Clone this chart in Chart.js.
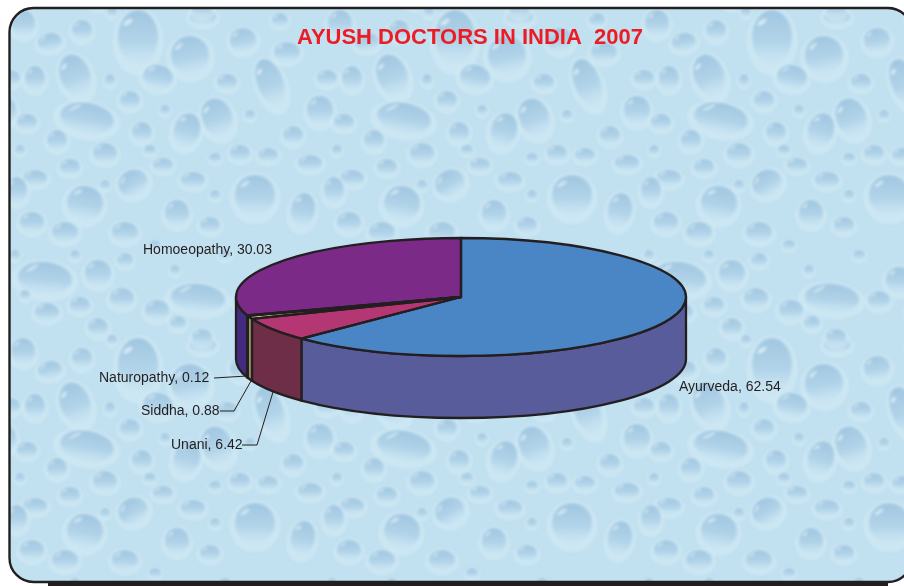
<!DOCTYPE html>
<html>
<head>
<meta charset="utf-8">
<title>AYUSH doctors in India 2007</title>
<script src="https://cdn.jsdelivr.net/npm/chart.js@4"></script>
<style>
  html, body { margin: 0; padding: 0; background: #fff; overflow: hidden; }
  #wrap { position: relative; width: 904px; height: 586px; }
</style>
</head>
<body>
<div id="wrap"><canvas id="myChart" width="904" height="586"></canvas></div>
<script>
var categories = ['Ayurveda', 'Unani', 'Siddha', 'Naturopathy', 'Homoeopathy'];
var shares = [62.54, 6.42, 0.88, 0.12, 30.03];
var titleText = 'AYUSH DOCTORS IN INDIA  2007';

var topColors = ['#4A86C5', '#B43672', '#E8E4A0', '#231F20', '#7B2A88'];
var wallColors = ['#595C9A', '#6F2E48', '#9A9468', '#231F20', '#432C7F'];

// where each label goes, and its leader line if it has one
var labelSpots = [[679, 387], [171, 445], [141, 411], [99, 378], [143, 250]];
var leaders = [
  null,
  [[242, 445], [257, 445], [273, 392]],
  [[220, 411], [234, 411], [251, 381]],
  [[214, 378], [247, 376]],
  null
];

// the flattened pie on the page
var pieX = 461, pieY = 297, pieR = 225, pieRy = 59, pieDepth = 62;
var ink = '#231F20';

// water drops of the backdrop, one repeating tile: x, y, rx, ry, tilt in degrees
var tileW = 317, tileH = 328;
var bgDrops = [
  [138, 37, 20, 27, 0], [190, 55, 19, 19, -10], [75, 75, 15, 21, -20], [270, 82, 13, 24, -20],
  [243, 40, 13, 12, -10], [158, 77, 15, 12, 10], [87, 118, 27, 15, 10], [217, 117, 15, 19, -20],
  [187, 130, 13, 17, 15], [3, 110, 13, 14, 0], [130, 100, 10, 9, 0], [227, 82, 10, 8, 0],
  [85, 203, 18, 17, 10], [255, 195, 20, 20, 0], [133, 183, 15, 13, -30], [303, 210, 12, 17, 10],
  [177, 213, 12, 13, 0], [125, 232, 13, 10, 0], [65, 232, 13, 10, 0], [32, 222, 12, 10, 0],
  [35, 78, 10, 12, 0], [50, 42, 12, 9, -10], [82, 30, 10, 10, 0], [23, 23, 12, 13, 0],
  [203, 17, 13, 8, 0], [287, 52, 13, 10, 0], [280, 20, 8, 7, 0], [27, 122, 10, 8, 0],
  [57, 140, 10, 10, 0], [105, 153, 12, 10, 0], [70, 167, 10, 8, 0], [35, 178, 12, 8, 0],
  [142, 132, 10, 10, 0], [163, 165, 10, 7, 0], [193, 180, 12, 8, 0], [240, 153, 10, 8, 0],
  [268, 155, 10, 7, 0], [293, 135, 10, 9, 0], [310, 163, 12, 8, 0], [10, 78, 10, 8, 0],
  [210, 225, 10, 8, 0], [17, 190, 10, 13, 0], [45, 278, 27, 16, 5], [98, 273, 13, 13, 0],
  [125, 260, 8, 7, 0], [198, 298, 27, 14, 5], [80, 305, 10, 8, 0], [122, 298, 12, 10, 0],
  [47, 312, 12, 9, 0], [157, 310, 12, 10, 0], [98, 327, 10, 9, 0], [202, 9, 10, 8, 0],
  [178, 323, 8, 7, 0], [265, 280, 13, 13, 0], [300, 270, 10, 9, 0], [245, 300, 11, 9, 0],
  [285, 310, 12, 10, 0], [112, 12, 5, 5, 0], [165, 110, 5, 5, 0], [110, 80, 5, 6, 0],
  [250, 115, 5, 5, 0], [20, 150, 5, 5, 0], [150, 150, 6, 5, 0], [215, 158, 6, 5, 0],
  [105, 185, 5, 5, 0], [215, 195, 5, 5, 0], [155, 245, 6, 5, 0], [225, 255, 6, 5, 0],
  [15, 255, 5, 5, 0], [75, 255, 5, 5, 0], [175, 270, 5, 5, 0], [25, 295, 5, 5, 0]
];

function dropAt(g, d, dx, dy) {
  var x = d[0] + dx, y = d[1] + dy, rx = d[2], ry = d[3], tilt = d[4] * Math.PI / 180;
  g.save();
  g.translate(x, y);
  g.rotate(tilt);
  // pale rim round the drop
  g.fillStyle = 'rgba(214,236,246,0.55)';
  g.beginPath();
  g.ellipse(0, ry * 0.16, rx * 1.2 + 1.5, ry * 1.22 + 1.5, 0, 0, Math.PI * 2);
  g.fill();
  // dark at the top, melting into the paper at the bottom
  var fill = g.createLinearGradient(0, -ry, 0, ry);
  fill.addColorStop(0, 'rgba(160,198,224,1)');
  fill.addColorStop(0.6, 'rgba(178,212,233,1)');
  fill.addColorStop(1, 'rgba(200,228,242,0.6)');
  g.fillStyle = fill;
  g.beginPath();
  g.ellipse(0, 0, rx, ry, 0, 0, Math.PI * 2);
  g.fill();
  // glint top left
  if (rx > 7) {
    g.fillStyle = 'rgba(232,246,251,0.75)';
    g.beginPath();
    g.ellipse(-rx * 0.5, -ry * 0.55, rx * 0.26, Math.max(ry * 0.08, 0.9), -0.6, 0, Math.PI * 2);
    g.fill();
  }
  g.restore();
}

function makeTile() {
  var c = document.createElement('canvas');
  c.width = tileW;
  c.height = tileH;
  var g = c.getContext('2d');
  g.fillStyle = '#C1E0F0';
  g.fillRect(0, 0, tileW, tileH);
  g.filter = 'blur(1.5px)';
  [-1, 0, 1].forEach(function(i) {
    [-1, 0, 1].forEach(function(j) {
      bgDrops.forEach(function(d) { dropAt(g, d, i * tileW, j * tileH); });
    });
  });
  return c;
}

function panelPath(ctx) {
  ctx.beginPath();
  ctx.roundRect(9.5, 8, 902.5, 574, 24);
}

var backdrop = {
  id: 'backdrop',
  beforeDraw: function(chart) {
    var ctx = chart.ctx;
    ctx.save();
    ctx.fillStyle = '#fff';
    ctx.fillRect(0, 0, 904, 586);
    ctx.fillStyle = ink;
    ctx.fillRect(48, 582, 840, 4);
    panelPath(ctx);
    ctx.fillStyle = ctx.createPattern(makeTile(), 'repeat');
    ctx.fill();
    ctx.lineWidth = 2.4;
    ctx.strokeStyle = ink;
    ctx.stroke();
    ctx.restore();
  }
};

// squashes the pie Chart.js draws and puts the side walls under it
function squash(ctx, arc) {
  ctx.translate(pieX, pieY);
  ctx.scale(1, pieRy / pieR);
  ctx.translate(-arc.x, -arc.y);
}

var tilted = {
  id: 'tilted',
  beforeDatasetsDraw: function(chart) {
    var ctx = chart.ctx;
    var arcs = chart.getDatasetMeta(0).data;
    ctx.save();
    ctx.lineWidth = 2.3;
    ctx.lineJoin = 'round';
    ctx.strokeStyle = ink;
    arcs.forEach(function(arc, i) {
      var a = Math.max(arc.startAngle, 0), b = Math.min(arc.endAngle, Math.PI);
      if (b <= a) return;
      ctx.fillStyle = wallColors[i];
      ctx.beginPath();
      ctx.ellipse(pieX, pieY, pieR, pieRy, 0, a, b);
      ctx.ellipse(pieX, pieY + pieDepth, pieR, pieRy, 0, b, a, true);
      ctx.closePath();
      ctx.fill();
      ctx.stroke();
    });
    ctx.restore();
    ctx.save();
    squash(ctx, arcs[0]);
  },
  afterDatasetsDraw: function(chart) {
    var ctx = chart.ctx;
    var arcs = chart.getDatasetMeta(0).data;
    ctx.restore();
    ctx.save();
    ctx.lineWidth = 2.3;
    ctx.lineJoin = 'round';
    ctx.strokeStyle = ink;
    arcs.forEach(function(arc) {
      ctx.beginPath();
      ctx.moveTo(pieX, pieY);
      ctx.ellipse(pieX, pieY, pieR, pieRy, 0, arc.startAngle, arc.endAngle);
      ctx.closePath();
      ctx.stroke();
    });
    ctx.restore();
  }
};

var pieLabels = {
  id: 'pieLabels',
  afterDraw: function(chart) {
    var ctx = chart.ctx;
    ctx.save();
    ctx.font = '14px "Liberation Sans", Arial, sans-serif';
    ctx.textBaseline = 'middle';
    ctx.textAlign = 'left';
    ctx.fillStyle = ink;
    ctx.strokeStyle = ink;
    ctx.lineWidth = 1;
    categories.forEach(function(name, i) {
      ctx.fillText(name + ', ' + shares[i].toFixed(2), labelSpots[i][0], labelSpots[i][1]);
      if (!leaders[i]) return;
      ctx.beginPath();
      leaders[i].forEach(function(p, k) {
        if (k === 0) ctx.moveTo(p[0], p[1]); else ctx.lineTo(p[0], p[1]);
      });
      ctx.stroke();
    });
    ctx.restore();
  }
};

var ctx = document.getElementById('myChart').getContext('2d');
var myChart = new Chart(ctx, {
  type: 'pie',
  data: {
    labels: categories,
    datasets: [{
      data: shares,
      backgroundColor: topColors,
      borderWidth: 0,
      clip: false
    }]
  },
  options: {
    responsive: false,
    animation: false,
    radius: pieR,
    layout: { padding: { left: 36 } },
    events: [],
    plugins: {
      legend: { display: false },
      tooltip: { enabled: false },
      title: {
        display: true,
        text: titleText,
        color: '#ED1C24',
        fullSize: false,
        font: { family: '"Liberation Sans", Arial, sans-serif', size: 22, weight: 'bold' },
        padding: { top: 25, bottom: 4 }
      }
    }
  },
  plugins: [backdrop, tilted, pieLabels]
});
</script>
</body>
</html>
